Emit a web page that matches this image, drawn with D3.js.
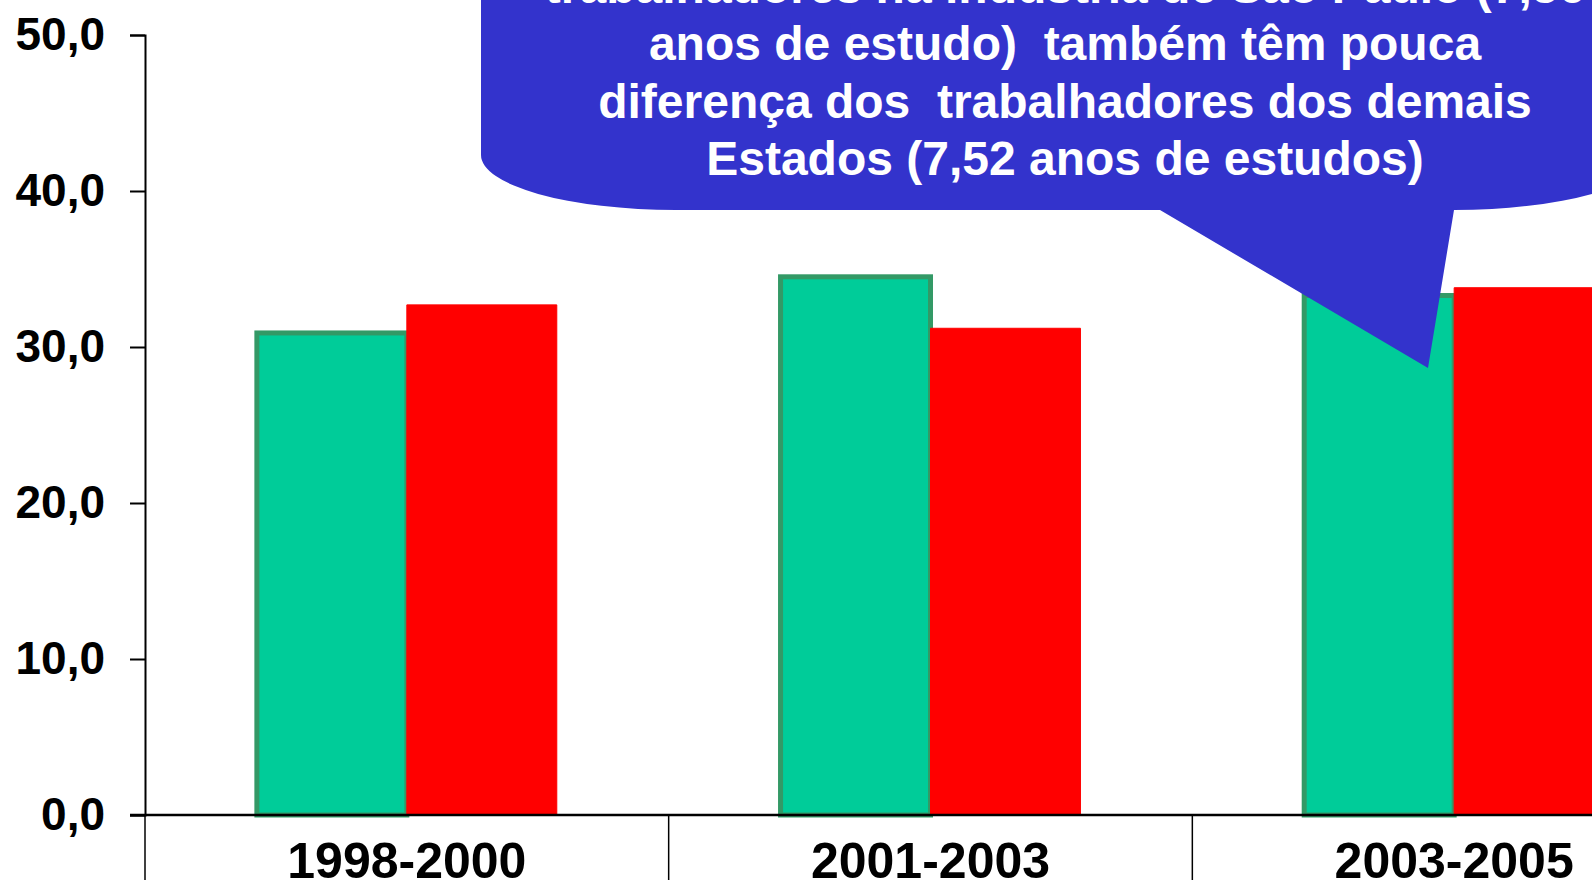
<!DOCTYPE html>
<html>
<head>
<meta charset="UTF-8">
<title>Anos de estudo</title>
<script src="https://cdn.jsdelivr.net/npm/d3@7"></script>
<style>
  html, body { margin: 0; padding: 0; background: #fff; overflow: hidden; }
  text { font-family: "Liberation Sans", Arial, sans-serif; font-weight: bold; }
</style>
</head>
<body>
<div id="chart"></div>
<script>
// data
var periods = ["1998-2000", "2001-2003", "2003-2005"];
var seriesNames = ["sp", "demais"];
var spValues = [30.9, 34.5, 33.3];
var demaisValues = [32.7, 31.2, 33.8];
var yTicks = [0, 10, 20, 30, 40, 50];
var calloutLines = [
  "trabalhadores na indústria de São Paulo (7,56",
  "anos de estudo)  também têm pouca",
  "diferença dos  trabalhadores dos demais",
  "Estados (7,52 anos de estudos)"
];

var width = 1592, height = 880;

var svg = d3.select("#chart")
  .append("svg")
  .attr("width", width)
  .attr("height", height);

var y = d3.scaleLinear().domain([0, 50]).range([815, 35]);

var x = d3.scaleBand()
  .domain(periods)
  .range([145, 1716])
  .paddingInner(0)
  .paddingOuter(0);

var xs = d3.scaleBand()
  .domain(seriesNames)
  .range([0, x.bandwidth()])
  .paddingInner(0)
  .paddingOuter(0.746);

var rows = periods.map(function(p, i) {
  return { period: p, sp: spValues[i], demais: demaisValues[i] };
});

// bars
var groups = svg.selectAll("g.grp")
  .data(rows)
  .enter().append("g")
  .attr("class", "grp")
  .attr("transform", function(d) { return "translate(" + x(d.period) + ",0)"; });

groups.append("rect")
  .attr("x", xs("sp"))
  .attr("y", function(d) { return y(d.sp); })
  .attr("width", xs.bandwidth())
  .attr("height", function(d) { return y(0) - y(d.sp); })
  .attr("fill", "#00CC99")
  .attr("stroke", "#339966")
  .attr("stroke-width", 5);

groups.append("rect")
  .attr("x", xs("demais"))
  .attr("y", function(d) { return y(d.demais); })
  .attr("width", xs.bandwidth())
  .attr("height", function(d) { return y(0) - y(d.demais); })
  .attr("fill", "#FF0000")
  .attr("stroke", "#FF0000")
  .attr("stroke-width", 1)
  .attr("stroke-linejoin", "round");

// y axis
var yAxis = d3.axisLeft(y)
  .tickValues(yTicks)
  .tickSize(15)
  .tickPadding(25)
  .tickFormat(function(d) { return d3.format(".1f")(d).replace(".", ","); });

var gy = svg.append("g")
  .attr("transform", "translate(145,0)")
  .call(yAxis);
gy.select(".domain").attr("stroke", "#000").attr("stroke-width", 2);
gy.selectAll(".tick line").attr("stroke", "#000").attr("stroke-width", 2);
gy.selectAll(".tick text")
  .attr("fill", "#000")
  .style("font-size", "46px")
  .style("font-family", "'Liberation Sans', Arial, sans-serif")
  .style("font-weight", "bold");

// x axis
svg.append("line")
  .attr("x1", 130).attr("x2", width)
  .attr("y1", y(0)).attr("y2", y(0))
  .attr("stroke", "#000").attr("stroke-width", 2.5);

svg.selectAll("line.divider")
  .data(periods)
  .enter().append("line")
  .attr("class", "divider")
  .attr("x1", function(d) { return x(d); })
  .attr("x2", function(d) { return x(d); })
  .attr("y1", y(0)).attr("y2", height)
  .attr("stroke", "#000").attr("stroke-width", 1.5);

svg.selectAll("text.cat")
  .data(periods)
  .enter().append("text")
  .attr("class", "cat")
  .attr("x", function(d) { return x(d) + x.bandwidth() / 2; })
  .attr("y", 878)
  .attr("text-anchor", "middle")
  .attr("fill", "#000")
  .style("font-size", "50px")
  .text(function(d) { return d; });

// callout balloon
var cx0 = 481, cx1 = 1649, ctop = -120, cbot = 210, rx = 195, ry = 55;
var p = "M" + cx0 + "," + ctop +
  " L" + cx1 + "," + ctop +
  " L" + cx1 + "," + (cbot - ry) +
  " A" + rx + "," + ry + " 0 0 1 " + (cx1 - rx) + "," + cbot +
  " L1454," + cbot +
  " L1428,368" +
  " L1160," + cbot +
  " L" + (cx0 + rx) + "," + cbot +
  " A" + rx + "," + ry + " 0 0 1 " + cx0 + "," + (cbot - ry) +
  " Z";

svg.append("path")
  .attr("d", p)
  .attr("fill", "#3333CC");

svg.selectAll("text.note")
  .data(calloutLines)
  .enter().append("text")
  .attr("class", "note")
  .attr("x", 1065)
  .attr("y", function(d, i) { return 3 + i * 57.3; })
  .attr("text-anchor", "middle")
  .attr("fill", "#fff")
  .style("font-size", "48px")
  .style("white-space", "pre")
  .attr("xml:space", "preserve")
  .text(function(d) { return d; });
</script>
</body>
</html>
